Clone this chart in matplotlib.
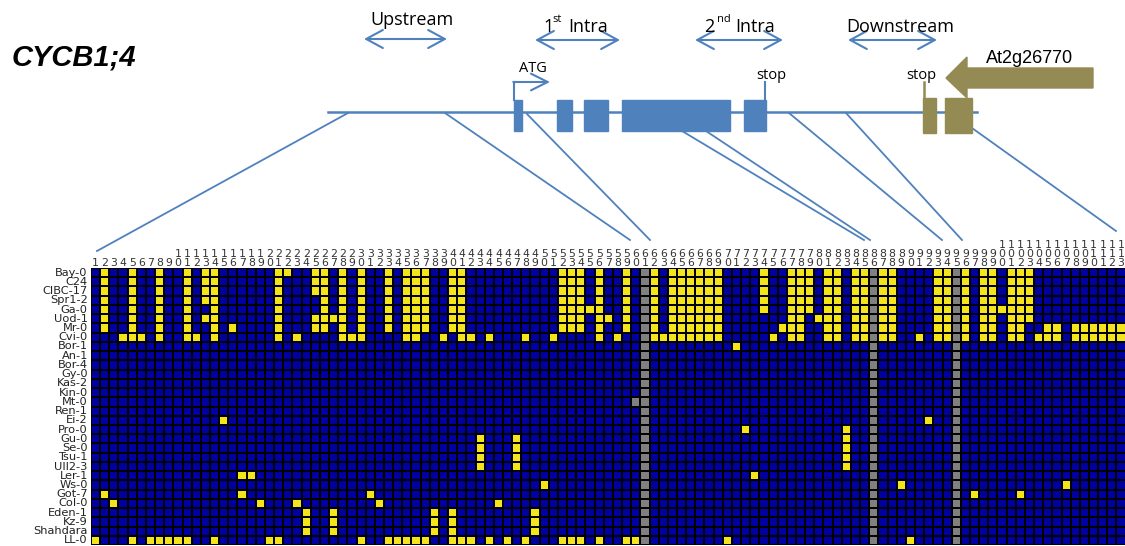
#!/usr/bin/env python3

import matplotlib
matplotlib.use("Agg")
import matplotlib.pyplot as plt
from matplotlib.colors import ListedColormap
from matplotlib.patches import Rectangle, Polygon
import numpy as np

matplotlib.rcParams['font.family'] = 'DejaVu Sans'

# Accessions, top to bottom of the haplotype table
accessions = ["Bay-0", "C24", "CIBC-17", "Spr1-2", "Ga-0", "Uod-1", "Mr-0",
              "Cvi-0", "Bor-1", "An-1", "Bor-4", "Gy-0", "Kas-2", "Kin-0",
              "Mt-0", "Ren-1", "Ei-2", "Pro-0", "Gu-0", "Se-0", "Tsu-1",
              "Ull2-3", "Ler-1", "Ws-0", "Got-7", "Col-0", "Eden-1", "Kz-9",
              "Shahdara", "LL-0"]
n_sites = 113

# Polymorphic sites (yellow) per accession, 1-based site numbers
bay_0 = [2, 5, 8, 11, 13, 14, 21, 22, 25, 26, 28, 30, 33, 35, 36, 37, 40, 41,
         52, 53, 54, 56, 59, 62, 64, 65, 66, 67, 68, 69, 74, 77, 78, 79, 81,
         82, 84, 85, 87, 88, 93, 94, 96, 98, 99, 101, 102, 103]
c24 = [2, 5, 8, 11, 13, 14, 21, 25, 26, 28, 30, 33, 35, 36, 37, 40, 41, 52,
       53, 54, 56, 59, 62, 64, 65, 66, 67, 68, 69, 74, 77, 78, 79, 81, 82, 84,
       85, 87, 88, 93, 94, 96, 98, 99, 101, 102, 103]
cibc_17 = [2, 5, 8, 11, 13, 14, 21, 25, 26, 28, 30, 33, 35, 36, 37, 40, 41,
           52, 53, 54, 56, 59, 62, 64, 65, 66, 67, 68, 69, 74, 77, 78, 79, 81,
           82, 84, 85, 87, 88, 93, 94, 96, 98, 99, 101, 102, 103]
spr1_2 = [2, 5, 8, 11, 13, 14, 21, 26, 28, 30, 33, 35, 36, 37, 40, 41, 52, 53,
          54, 56, 59, 62, 64, 65, 66, 67, 68, 69, 74, 77, 78, 79, 81, 82, 84,
          85, 87, 88, 93, 94, 96, 98, 99, 101, 102, 103]
ga_0 = [2, 5, 8, 11, 14, 21, 26, 28, 30, 33, 35, 36, 37, 40, 41, 52, 53, 54,
        55, 56, 59, 62, 64, 65, 66, 67, 68, 69, 74, 77, 78, 79, 81, 82, 84, 85,
        87, 88, 93, 94, 96, 98, 99, 100, 101, 102, 103]
uod_1 = [2, 5, 8, 11, 13, 14, 21, 25, 26, 27, 28, 30, 33, 35, 36, 37, 40, 41,
         52, 53, 54, 56, 57, 59, 62, 64, 65, 66, 67, 68, 69, 77, 78, 80, 81,
         82, 84, 85, 87, 88, 93, 94, 96, 98, 99, 101, 102, 103]
mr_0 = [2, 5, 8, 11, 14, 16, 21, 25, 26, 28, 30, 33, 35, 36, 37, 40, 41, 52,
        53, 54, 56, 59, 62, 64, 65, 66, 67, 68, 69, 76, 77, 78, 81, 82, 84, 85,
        87, 88, 93, 94, 96, 98, 99, 101, 102, 105, 106, 108, 109, 110, 111,
        112, 113]
cvi_0 = [4, 5, 6, 8, 11, 12, 14, 21, 23, 28, 29, 30, 35, 36, 39, 41, 42, 44,
         48, 51, 56, 58, 62, 63, 64, 65, 66, 67, 68, 69, 75, 77, 78, 81, 82,
         84, 85, 87, 88, 91, 93, 94, 96, 98, 99, 101, 102, 104, 105, 106, 108,
         109, 110, 111, 112, 113]
bor_1 = [71]
an_1 = []
bor_4 = []
gy_0 = []
kas_2 = []
kin_0 = []
mt_0 = []
ren_1 = []
ei_2 = [15, 92]
pro_0 = [72, 83]
gu_0 = [43, 47, 83]
se_0 = [43, 47, 83]
tsu_1 = [43, 47, 83]
ull2_3 = [43, 47, 83]
ler_1 = [17, 18, 73]
ws_0 = [50, 89, 107]
got_7 = [2, 17, 31, 97, 102]
col_0 = [3, 19, 23, 32, 45]
eden_1 = [24, 27, 38, 40, 49]
kz_9 = [24, 27, 38, 40, 49]
shahdara = [24, 27, 38, 40, 49]
ll_0 = [1, 5, 7, 8, 9, 10, 11, 14, 20, 21, 30, 33, 34, 35, 36, 37, 40, 41, 42,
        44, 46, 48, 52, 53, 54, 56, 59, 60, 70, 90]

yellow_sites = [bay_0, c24, cibc_17, spr1_2, ga_0, uod_1, mr_0, cvi_0, bor_1,
                an_1, bor_4, gy_0, kas_2, kin_0, mt_0, ren_1, ei_2, pro_0,
                gu_0, se_0, tsu_1, ull2_3, ler_1, ws_0, got_7, col_0, eden_1,
                kz_9, shahdara, ll_0]

# Sites without data (grey)
gray_sites = [61, 86, 95]
missing_cells = [("Mt-0", 60)]

# Gene model (schematic, drawing units = pixels)
exons = [(514, 522), (557, 572), (584, 608), (622, 730), (744, 766)]
neighbour_exons = [(923, 936), (945, 972)]
regions = ["Upstream", "1st Intra", "2nd Intra", "Downstream"]

# Colors
blue = "#4f81bd"
olive = "#948a54"
cell_blue = "#0000a0"
cell_yellow = "#f4e41c"
cell_gray = "#808080"
label_font = "Open Sans"

fig = plt.figure(figsize=(11.25, 5.46), dpi=100)

# ---- top schematic, in pixel units
ax0 = fig.add_axes([0, 0, 1, 1])
ax0.set_xlim(0, 1125)
ax0.set_ylim(546, 0)
ax0.axis("off")

ax0.text(12, 65, "CYCB1;4", fontsize=21, fontweight="bold", style="italic",
         family="Liberation Sans", ha="left", va="baseline")

ax0.plot([328, 977], [112, 112], color=blue, lw=1.8, zorder=1)
for x0, x1 in exons:
  ax0.add_patch(Rectangle((x0, 100), x1 - x0, 31, color=blue, zorder=2))
for x0, x1 in neighbour_exons:
  ax0.add_patch(Rectangle((x0, 98), x1 - x0, 35, color=olive, zorder=2))

# neighbouring gene arrow
ax0.add_patch(Polygon([(1093, 68), (967, 68), (967, 57), (946, 78),
                       (967, 98), (967, 88), (1093, 88)],
                      closed=True, color=olive, zorder=2))
ax0.text(1030, 63, "At2g26770", fontsize=13, family="Liberation Sans",
         ha="center", va="baseline")


def double_arrow(x0, x1, y):
  ax0.annotate("", xy=(x1, y), xytext=(x0, y),
               arrowprops=dict(arrowstyle="<->,head_length=1.2,head_width=0.65",
                               color=blue, lw=1.5, shrinkA=0, shrinkB=0))


double_arrow(364, 447, 39)
double_arrow(535, 620, 40)
double_arrow(695, 783, 40)
double_arrow(848, 937, 40)

ax0.text(412, 25, regions[0], fontsize=13, family=label_font,
         ha="center", va="baseline")
ax0.text(543, 32, "1", fontsize=13, family=label_font, va="baseline")
ax0.text(552, 22, "st", fontsize=8, family=label_font, va="baseline")
ax0.text(568, 32, "Intra", fontsize=13, family=label_font, va="baseline")
ax0.text(704, 32, "2", fontsize=13, family=label_font, va="baseline")
ax0.text(717, 22, "nd", fontsize=8, family=label_font, va="baseline")
ax0.text(735, 32, "Intra", fontsize=13, family=label_font, va="baseline")
ax0.text(900, 32, regions[3], fontsize=13, family=label_font,
         ha="center", va="baseline")

# ATG bent arrow
ax0.plot([514, 514], [100, 82], color=blue, lw=1.5)
ax0.annotate("", xy=(550, 82), xytext=(513.3, 82),
             arrowprops=dict(arrowstyle="->,head_length=1.2,head_width=0.6",
                             color=blue, lw=1.5, shrinkA=0, shrinkB=0))
ax0.text(533, 72, "ATG", fontsize=10.5, family=label_font,
         ha="center", va="baseline")

# stop codons
ax0.plot([765, 765], [82, 100], color=blue, lw=1.5)
ax0.text(771, 79, "stop", fontsize=10.5, family=label_font,
         ha="center", va="baseline")
ax0.plot([924, 924], [82, 98], color=olive, lw=1.8)
ax0.text(921, 79, "stop", fontsize=10.5, family=label_font,
         ha="center", va="baseline")

# lines linking the gene model to the table
links = [((348, 113), (97, 251)), ((445, 113), (630, 240)),
         ((527, 114), (650, 240)), ((682, 131), (864, 240)),
         ((706, 131), (870, 240)), ((789, 113), (942, 240)),
         ((846, 113), (962, 240)), ((958, 118), (1116, 231))]
for (xa, ya), (xb, yb) in links:
  ax0.plot([xa, xb], [ya, yb], color=blue, lw=1.3, zorder=1)

# ---- haplotype table
mat = np.zeros((len(accessions), n_sites))
for r, sites in enumerate(yellow_sites):
  for s in sites:
    mat[r, s - 1] = 1
for s in gray_sites:
  mat[:, s - 1] = 2
for name, s in missing_cells:
  mat[accessions.index(name), s - 1] = 2

cell_w = 9.156
grid_left, grid_top, grid_bottom = 91, 268, 545
ax = fig.add_axes([grid_left / 1125, (546 - grid_bottom) / 546,
                   n_sites * cell_w / 1125, (grid_bottom - grid_top) / 546])
cmap = ListedColormap([cell_blue, cell_yellow, cell_gray])
ax.pcolormesh(np.arange(0.5, n_sites + 1), np.arange(-0.5, len(accessions)),
              mat, cmap=cmap, vmin=-0.5, vmax=2.5,
              edgecolors="black", linewidth=1.2)
ax.set_xlim(0.5, n_sites + 0.5)
ax.set_ylim(len(accessions) - 0.5, -0.5)
ax.axis("off")

for s in range(1, n_sites + 1):
  ax.text(s, -0.55, "\n".join(str(s)), ha="center", va="bottom",
          fontsize=7.8, linespacing=0.82, color="#333333", clip_on=False)
for r, name in enumerate(accessions):
  ax.text(0.15, r, name, ha="right", va="center", fontsize=8.2,
          color="#222222", clip_on=False)

fig.savefig("out.png", dpi=100)
